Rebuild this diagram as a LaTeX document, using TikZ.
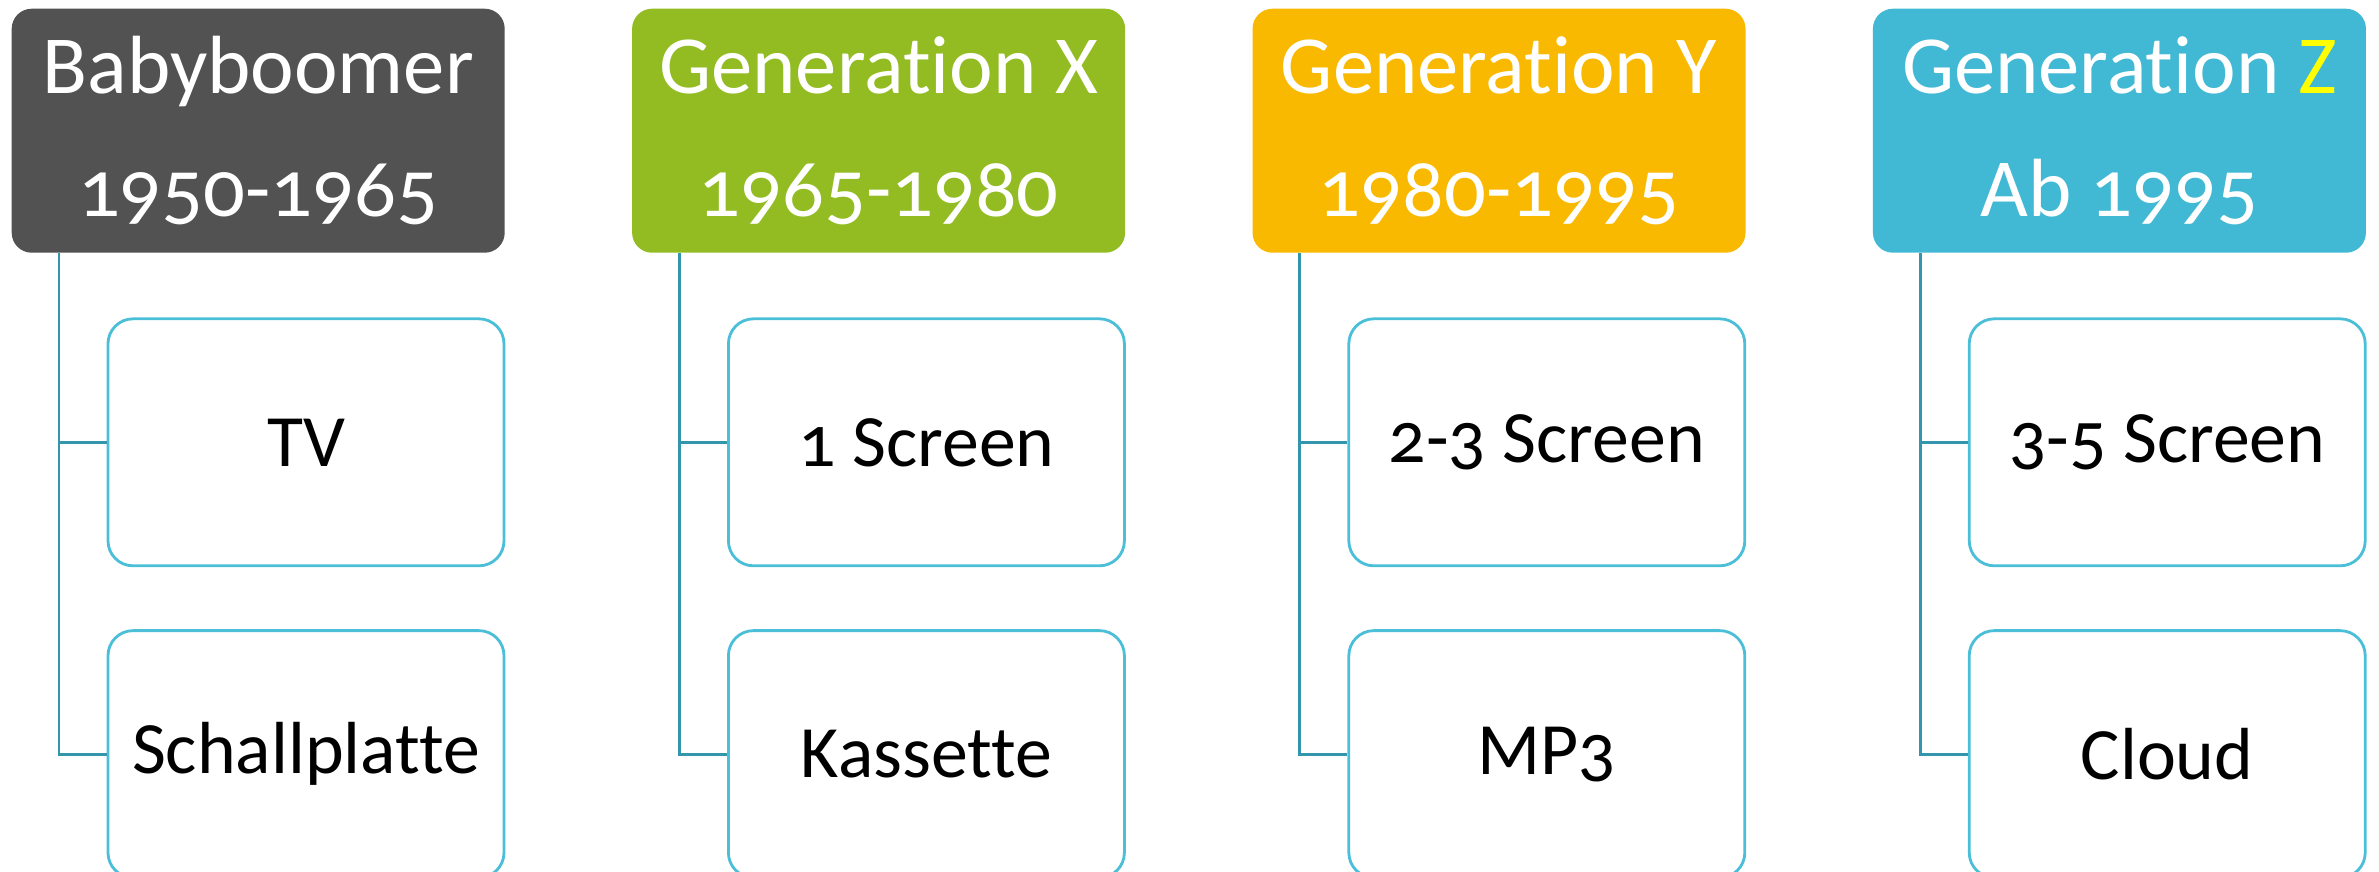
\documentclass[tikz,border=0pt]{standalone}
\usepackage{fontspec}
\setmainfont[Numbers=OldStyle, Ligatures={NoCommon}]{Carlito}
\usetikzlibrary{positioning}
\definecolor{boomgray}{RGB}{82,82,82}
\definecolor{xgreen}{RGB}{146,188,34}
\definecolor{yorange}{RGB}{249,185,0}
\definecolor{zcyan}{RGB}{66,185,212}
\definecolor{edgecyan}{RGB}{75,190,216}
\definecolor{linkteal}{RGB}{52,150,172}
\definecolor{zyellow}{RGB}{255,255,0}

\begin{document}
\begin{tikzpicture}[
  gen/.style={rounded corners=0.2cm, minimum width=4.93cm, minimum height=2.44cm,
              align=center, text=white, inner sep=0pt,
              font=\fontsize{23.5}{35}\selectfont},
  item/.style={draw=edgecyan, line width=0.8pt, rounded corners=0.25cm, fill=white,
               minimum width=3.96cm, minimum height=2.47cm, inner sep=0pt,
               font=\fontsize{21}{26}\selectfont},
  link/.style={draw=linkteal, line width=0.8pt}]
\useasboundingbox (0,0) rectangle (23.79,-8.71);
% generation headers
\node[gen, fill=boomgray, anchor=north west] (gen1) at (0.11,-0.08) {Babyboomer\\1950-1965};
\node[gen, fill=xgreen, right=1.26cm of gen1] (gen2) {Generation X\\1965-1980};
\node[gen, fill=yorange, right=1.26cm of gen2] (gen3) {Generation Y\\1980-1995};
\node[gen, fill=zcyan, right=1.26cm of gen3] (gen4) {Generation {\color{zyellow}Z}\\Ab 1995};
% media boxes below each header
\node[item, below=0.64cm of gen1.south east, anchor=north east] (tv) {TV};
\node[item, below=0.62cm of tv] (plate) {Schallplatte};
\node[item, below=0.64cm of gen2.south east, anchor=north east] (scr1) {1 Screen};
\node[item, below=0.62cm of scr1] (tape) {Kassette};
\node[item, below=0.64cm of gen3.south east, anchor=north east] (scr23) {2-3 Screen};
\node[item, below=0.62cm of scr23] (mp3) {MP3};
\node[item, below=0.64cm of gen4.south east, anchor=north east] (scr35) {3-5 Screen};
\node[item, below=0.62cm of scr35] (cloud) {Cloud};
% tree lines
\draw[link] ([xshift=0.48cm]gen1.south west) |- (tv.west);
\draw[link] ([xshift=0.48cm]gen1.south west) |- (plate.west);
\draw[link] ([xshift=0.48cm]gen2.south west) |- (scr1.west);
\draw[link] ([xshift=0.48cm]gen2.south west) |- (tape.west);
\draw[link] ([xshift=0.48cm]gen3.south west) |- (scr23.west);
\draw[link] ([xshift=0.48cm]gen3.south west) |- (mp3.west);
\draw[link] ([xshift=0.48cm]gen4.south west) |- (scr35.west);
\draw[link] ([xshift=0.48cm]gen4.south west) |- (cloud.west);
\end{tikzpicture}
\end{document}
